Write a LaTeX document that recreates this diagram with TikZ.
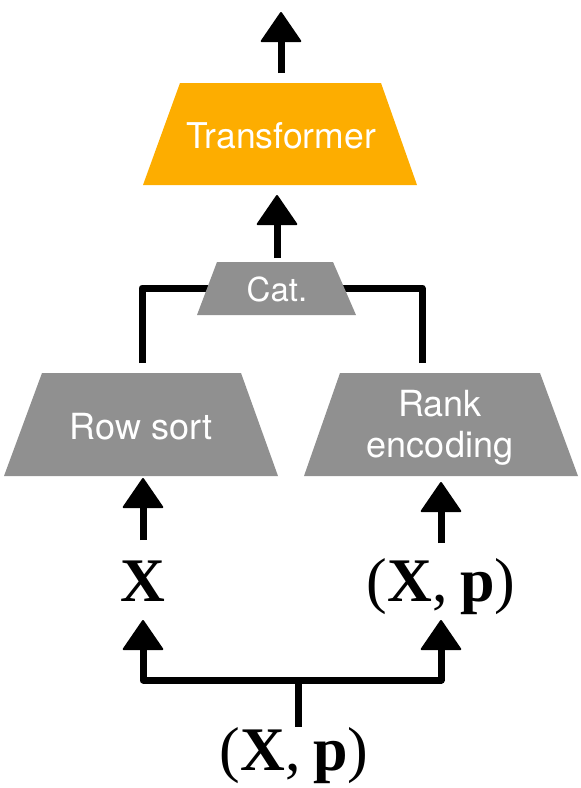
\documentclass[tikz,border=0pt]{standalone}
\usepackage{fontspec}
\setmainfont{Liberation Serif}
\newfontfamily\helv{TeX Gyre Heros}
\usetikzlibrary{arrows.meta,calc}
\definecolor{boxgray}{HTML}{909090}
\definecolor{boxorange}{HTML}{FDAD00}
\begin{document}
\begin{tikzpicture}[x=1pt,y=-1pt,
  blocktxt/.style={text=white,font=\helv\fontsize{36}{41}\selectfont,align=center,inner sep=0pt},
  mathlbl/.style={font=\fontsize{62}{70}\selectfont,anchor=base,inner sep=0pt},
  wire/.style={line width=7pt,black,line join=round},
  arr/.style={wire,-{Triangle[width=42pt,length=31pt,round,line width=2pt]}}]
\useasboundingbox (0,0) rectangle (581,788);

% named end points
\coordinate (topEnd) at (281,12);
\coordinate (tfTop) at (281,73);
\coordinate (tfBot) at (277,195);
\coordinate (catTop) at (277,258);
\coordinate (catL) at (215,288);
\coordinate (catR) at (338,288);
\coordinate (rsTop) at (142,363);
\coordinate (rkTop) at (422,363);
\coordinate (rsBot) at (143,478);
\coordinate (rkBot) at (441,482);
\coordinate (xTop) at (143,540);
\coordinate (xpTop) at (441,543);
\coordinate (xBot) at (143,620);
\coordinate (xpBot) at (441,620);
\coordinate (split) at (298,680);

% connectors into Cat.
\draw[wire] (rsTop) |- (catL);
\draw[wire] (rkTop) |- (catR);

% Transformer
\fill[boxorange] (143,185) -- (180,83) -- (381,83) -- (417,185) -- cycle;
\node[blocktxt,font=\helv\fontsize{35.5}{40}\selectfont] (tf) at (281,136) {Transformer};

% Cat.
\fill[boxgray] (197,315) -- (217,262) -- (333,262) -- (356,315) -- cycle;
\node[blocktxt,font=\helv\fontsize{33}{36}\selectfont] (cat) at (277,289) {Cat.};

% Row sort
\fill[boxgray] (4,476) -- (42,373) -- (241,373) -- (278,476) -- cycle;
\node[blocktxt] (rs) at (141,427) {Row sort};

% Rank encoding
\fill[boxgray] (304,476) -- (340,373) -- (540,373) -- (578,476) -- cycle;
\node[blocktxt] (rk) at (440,428) {Rank\\encoding};

% labels
\node[mathlbl] (xl) at (143,601) {\textbf{X}};
\node[mathlbl] (xpl) at (441,601) {(\textbf{X},\kern0.2em\textbf{p})};
\node[mathlbl] (xp0) at (294,770) {(\textbf{X},\kern0.2em\textbf{p})};

% arrows
\draw[arr] (tfTop) -- (topEnd);
\draw[arr] (catTop) -- (tfBot);
\draw[arr] (xTop) -- (rsBot);
\draw[arr] (xpTop) -- (rkBot);
\draw[wire] (split |- xp0.north) -- (split);
\draw[arr] (split) -| (xBot);
\draw[arr] (split) -| (xpBot);
\end{tikzpicture}
\end{document}
